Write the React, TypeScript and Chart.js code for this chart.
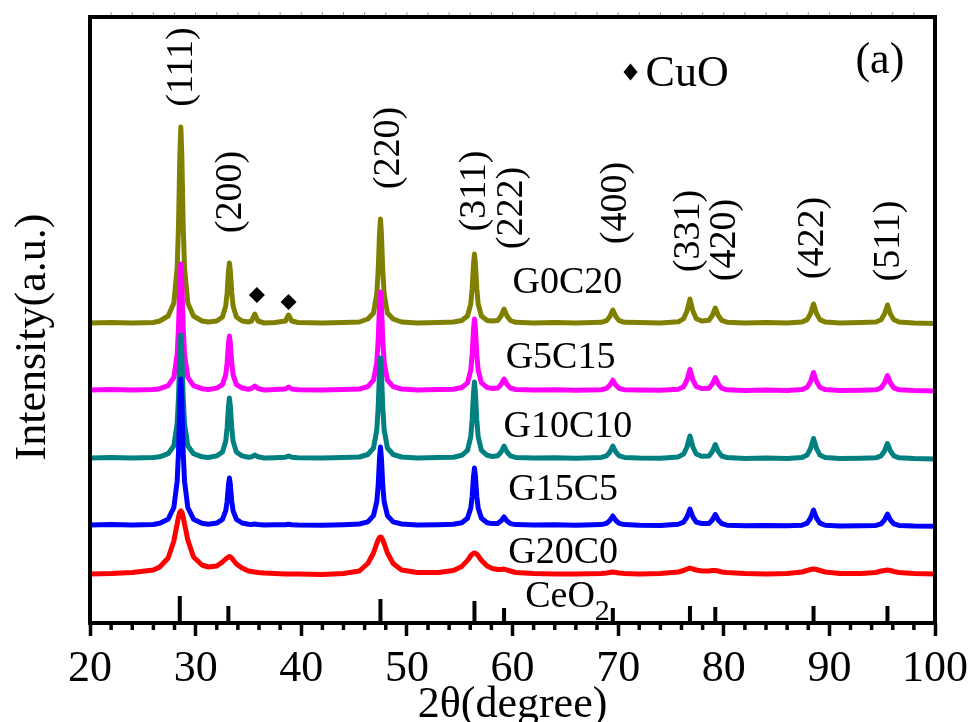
import { useEffect, useRef } from "react";
import { Chart, registerables } from "chart.js";

Chart.register(...registerables);

const FONT = '"Liberation Serif", "Times New Roman", serif';

// 2θ sampling positions (degrees), shared by all five patterns
const twoTheta = [
  20, 22, 24, 26,
  26.6, 27.4, 27.94, 28.25, 28.38, 28.51, 28.6, 28.69, 28.82, 28.95, 29.26, 29.8, 30.6,
  31.2,
  32.0, 32.54, 32.85, 32.98, 33.11, 33.2, 33.29, 33.42, 33.55, 33.86, 34.4,
  35.0,
  35.3, 35.6, 35.9, 36.5,
  37.5,
  38.5, 38.8, 39.1, 39.7,
  42, 44, 45.5,
  46.3, 46.84, 47.15, 47.28, 47.41, 47.5, 47.59, 47.72, 47.85, 48.16, 48.7,
  49.5, 51, 53,
  54.4, 55.2, 55.74, 56.05, 56.18, 56.31, 56.4, 56.49, 56.62, 56.75, 57.06, 57.6,
  58.1,
  58.6, 58.92, 59.2, 59.48, 59.8, 60.3,
  62, 64, 66,
  68.4, 68.9, 69.22, 69.5, 69.78, 70.1, 70.6,
  72, 74,
  75.7, 76.2, 76.52, 76.8, 77.08, 77.4, 77.9,
  78.6, 78.92, 79.2, 79.48, 79.8, 80.3,
  82, 84, 86,
  87.4, 87.9, 88.22, 88.5, 88.78, 89.1, 89.6,
  91, 93,
  94.4, 94.9, 95.22, 95.5, 95.78, 96.1, 96.6,
  98, 100,
];

// Intensities (a.u., stacked with vertical offsets)
const g0c20 = [
  300, 300.5, 300, 300.5,
  302, 307, 320, 355, 398, 469, 496, 469, 398, 355, 320, 307, 302,
  301,
  302, 306, 317, 330, 352, 360, 352, 330, 317, 306, 302,
  301,
  302, 309, 302, 300,
  300.5,
  302, 308, 302, 300.5,
  300, 300.5, 301,
  304, 310, 329, 352, 389, 404, 389, 352, 329, 310, 304,
  301, 300, 300.5,
  301, 302.5, 307, 319, 334.5, 359, 369, 359, 334.5, 319, 307, 302.5,
  302,
  302.5, 307, 314, 307, 302.5, 300.7,
  300, 300.5, 300,
  300.7, 302.3, 306.5, 313, 306.5, 302.3, 300.7,
  300.5, 300,
  301.2, 304.3, 312, 324, 312, 304.3, 302,
  302.7, 307.5, 315, 307.5, 302.7, 300.8,
  300, 300.5, 300,
  301, 303.4, 309.5, 319, 309.5, 303.4, 301,
  300, 300.5,
  301, 303.2, 309, 318, 309, 303.2, 301,
  300, 299.5,
];

const g5c15 = [
  233, 233.5, 233, 233.5,
  234.3, 237.4, 245.6, 268.3, 296, 341.4, 359, 341.4, 296, 268.3, 245.6, 237.4, 234.3,
  233.5,
  234.9, 238.4, 248.1, 260, 279.4, 287, 279.4, 260, 248.1, 238.4, 235,
  233.8,
  234.5, 237, 234.5, 233,
  233.5,
  234, 236, 234, 233.2,
  233, 233.5, 234,
  236.4, 242.8, 260.4, 282, 317.3, 331, 317.3, 282, 260.4, 242.8, 236.4,
  234, 233, 233.5,
  233.7, 235.5, 240.1, 252.9, 268.5, 294, 304, 294, 268.5, 252.9, 240.1, 235.5,
  234.5,
  235, 238.5, 244, 238.5, 235, 233.5,
  233, 233.3, 232.8,
  233.3, 234.6, 237.8, 242.8, 237.8, 234.6, 233.3,
  233, 232.7,
  233.8, 236.3, 243, 253.5, 243, 236.3, 234.5,
  234.8, 239, 245.5, 239, 234.8, 233.2,
  232.5, 233, 232.5,
  233.4, 235.7, 241.5, 250.5, 241.5, 235.7, 233.4,
  232.5, 232.8,
  233.2, 235.2, 240, 247.5, 240, 235.2, 233.2,
  232.5, 232,
];

const g10c10 = [
  165, 165.5, 165, 165.5,
  166.2, 169.3, 177.3, 199.4, 226.5, 270.8, 288, 270.8, 226.5, 199.4, 177.3, 169.3, 166.2,
  165.5,
  167.1, 171, 181.8, 195, 216.6, 225, 216.6, 195, 181.8, 171, 167.1,
  165.8,
  166.2, 168, 166.2, 165,
  165.3,
  165.8, 167, 165.8, 165.2,
  165, 165.4, 166,
  168.5, 175, 193, 215, 251, 265, 251, 215, 193, 175, 168.5,
  166, 165, 165.4,
  165.8, 167.7, 172.6, 186.3, 203, 230.4, 241, 230.4, 203, 186.3, 172.6, 167.7,
  166.5,
  167.2, 171, 177, 171, 167.2, 165.6,
  165, 165.3, 164.8,
  165.6, 167.2, 171, 177, 171, 167.2, 165.6,
  165, 164.8,
  166.1, 169, 176, 187, 176, 169, 166.8,
  167, 171.5, 178.5, 171.5, 167, 165.5,
  164.5, 165, 164.5,
  165.5, 168.1, 174.5, 184.5, 174.5, 168.1, 165.5,
  164.5, 164.8,
  165.2, 167.2, 172, 179.5, 172, 167.2, 165.2,
  164.5, 164,
];

const g15c5 = [
  98, 98.5, 98, 98.5,
  99.8, 103.8, 115.5, 141.8, 171, 223.6, 244, 223.6, 171, 141.8, 115.5, 103.8, 99.8,
  98.8,
  99.9, 103.6, 112.1, 121.5, 138.4, 145, 138.4, 121.5, 112.1, 103.6, 100,
  98.8,
  98.5, 99, 98.5, 98,
  98.3,
  98.3, 98.8, 98.3, 98,
  97.8, 98.3, 99,
  101.1, 107.4, 121.4, 137, 165, 176, 165, 137, 121.4, 107.4, 101.1,
  99, 98, 98.3,
  98.7, 100.3, 104.8, 115.1, 126.5, 147, 155, 147, 126.5, 115.1, 104.8, 100.3,
  99.4,
  99.6, 102, 106, 102, 99.4, 98.4,
  98, 98.2, 97.8,
  98.4, 99.6, 102.5, 107, 102.5, 99.6, 98.4,
  97.8, 97.5,
  98.8, 100.9, 106, 114, 106, 100.9, 99.5,
  99.5, 103, 108.5, 103, 99.5, 97.8,
  97.3, 97.5, 97.2,
  97.8, 99.9, 105, 113, 105, 99.9, 97.8,
  97, 97.2,
  97.6, 99.2, 103, 109, 103, 99.2, 97.6,
  97, 96.8,
];

const g20c0 = [
  49, 49.5, 50.5, 53,
  56, 65, 82, 99, 106, 111, 112, 111, 106, 99, 83, 66, 58,
  56,
  57, 61, 64, 65, 66, 66.5, 66, 65, 63, 59, 55,
  52,
  51.5, 51, 50.5, 50,
  49.5,
  49, 49, 49, 49,
  48.5, 49.5, 52,
  59.5, 70, 79.5, 83, 85.5, 86, 85.5, 83, 79.5, 70, 59.5,
  53, 50.5, 50.5,
  52.5, 56.6, 62.6, 67.3, 68.8, 69.8, 70, 69.8, 68.8, 67.3, 62.6, 57,
  54.5,
  53.5, 53.5, 54, 53, 52, 50.5,
  49.5, 49, 49,
  49.5, 50, 50.5, 51, 50.5, 50, 49.5,
  49, 49.5,
  51, 52.5, 54, 55, 54, 53, 52,
  52, 52.5, 52.5, 52, 51, 50.5,
  49.5, 49, 49.5,
  51, 52.5, 53.5, 54, 53.5, 52.5, 51,
  49.5, 49.5,
  50.5, 52, 52.5, 53, 52.5, 51.5, 50.5,
  49.5, 49,
];

const sampleNames = ["G0C20", "G5C15", "G10C10", "G15C5", "G20C0"];
const sampleColors = ["#808000", "#ff00ff", "#008080", "#0000ff", "#ff0000"];
const sampleSeries = [g0c20, g5c15, g10c10, g15c5, g20c0];
const sampleLabelX = [60.0, 59.35, 59.15, 59.6, 59.6];
const sampleLabelY = [330, 255, 186, 123, 60];

// CeO2 reference pattern (stick positions and relative heights)
const ceo2Peaks = [28.5, 33.1, 47.5, 56.4, 59.2, 69.5, 76.8, 79.2, 88.5, 95.5];
const ceo2Heights = [27, 17, 24, 22, 15, 15, 17, 16, 17, 17];

// CuO reflections marked on G0C20
const cuoX = [35.8, 38.8];
const cuoY = [328, 321];

// Miller indices of the fluorite CeO2 reflections
const hklLabels = ["(111)", "(200)", "(220)", "(311)", "(222)", "(400)", "(331)", "(420)", "(422)", "(511)"];
const hklX = [28.76, 33.49, 48.36, 56.5, 60.0, 69.94, 76.85, 80.26, 88.5, 95.7];
const hklY = [556, 431, 475, 432, 415, 420, 392, 383, 385, 382];

const xMin = 20;
const xMax = 100;
const xMajorStep = 10;
const xMinorStep = 2;
const yMax = 606;

const annotations = {
  id: "xrdAnnotations",
  afterDraw(chart: any) {
    const { ctx, chartArea: a, scales } = chart;
    const xs = scales.x;
    const ys = scales.y;
    ctx.save();

    // frame
    ctx.strokeStyle = "#000";
    ctx.lineWidth = 4;
    ctx.strokeRect(a.left, a.top, a.right - a.left, a.bottom - a.top);

    // minor ticks on the 2θ axis
    ctx.lineWidth = 3.5;
    for (let v = xMin + xMinorStep; v < xMax; v += xMinorStep) {
      if (v % xMajorStep === 0) continue;
      const px = xs.getPixelForValue(v);
      ctx.beginPath();
      ctx.moveTo(px, a.bottom);
      ctx.lineTo(px, a.bottom + 7);
      ctx.stroke();
    }
    // faint ticks on the top edge
    ctx.strokeStyle = "#9a9a9a";
    ctx.lineWidth = 1;
    for (let v = xMin + xMinorStep; v < xMax; v += xMinorStep) {
      const px = xs.getPixelForValue(v);
      ctx.beginPath();
      ctx.moveTo(px, a.top - 2);
      ctx.lineTo(px, a.top - 5);
      ctx.stroke();
    }

    ctx.fillStyle = "#000";

    // Miller index labels, rotated
    ctx.font = `38px ${FONT}`;
    ctx.textAlign = "center";
    ctx.textBaseline = "alphabetic";
    hklLabels.forEach((t, i) => {
      const px = xs.getPixelForValue(hklX[i]);
      const py = ys.getPixelForValue(hklY[i]);
      ctx.save();
      ctx.translate(px + 9, py);
      ctx.rotate(-Math.PI / 2);
      ctx.fillText(t, 0, 0);
      ctx.restore();
    });

    // sample names
    ctx.textAlign = "left";
    ctx.font = `38px ${FONT}`;
    sampleNames.forEach((t, i) => {
      ctx.fillText(t, xs.getPixelForValue(sampleLabelX[i]), ys.getPixelForValue(sampleLabelY[i]));
    });

    // CeO2 with subscript
    const cx = xs.getPixelForValue(61.2);
    ctx.font = `38px ${FONT}`;
    ctx.fillText("CeO", cx, ys.getPixelForValue(16));
    const w = ctx.measureText("CeO").width;
    ctx.font = `30px ${FONT}`;
    ctx.fillText("2", cx + w, ys.getPixelForValue(3));

    // CuO key
    const dx = xs.getPixelForValue(71.17);
    const dy = ys.getPixelForValue(551);
    ctx.beginPath();
    ctx.moveTo(dx, dy - 8.5);
    ctx.lineTo(dx + 7, dy);
    ctx.lineTo(dx, dy + 8.5);
    ctx.lineTo(dx - 7, dy);
    ctx.closePath();
    ctx.fill();
    ctx.font = `44px ${FONT}`;
    ctx.fillText("CuO", xs.getPixelForValue(72.6), ys.getPixelForValue(537));

    // panel tag
    ctx.fillText("(a)", xs.getPixelForValue(92.47), ys.getPixelForValue(550));

    // axis titles
    ctx.font = `44px ${FONT}`;
    ctx.textAlign = "center";
    ctx.fillText("2θ(degree)", (a.left + a.right) / 2, a.bottom + 94);
    ctx.save();
    ctx.translate(a.left - 45, 337);
    ctx.rotate(-Math.PI / 2);
    ctx.fillText("Intensity(a.u.)", 0, 0);
    ctx.restore();

    ctx.restore();
  },
};

export default function App() {
  const canvasRef = useRef<HTMLCanvasElement | null>(null);

  useEffect(() => {
    const canvas = canvasRef.current;
    if (!canvas) return;

    const patternSets = sampleSeries.map((series, i) => ({
      type: "line" as const,
      label: sampleNames[i],
      data: twoTheta.map((x, j) => ({ x, y: series[j] })),
      borderColor: sampleColors[i],
      borderWidth: 5,
      borderJoinStyle: "round" as const,
      pointRadius: 0,
      tension: 0,
      fill: false,
      order: 4 - i,
    }));

    const ceo2Data: { x: number; y: number | null }[] = [];
    ceo2Peaks.forEach((p, i) => {
      ceo2Data.push({ x: p, y: 0 }, { x: p, y: ceo2Heights[i] }, { x: p, y: null });
    });

    const chart = new Chart(canvas, {
      type: "line",
      data: {
        datasets: [
          ...patternSets,
          {
            type: "line",
            label: "CeO2",
            data: ceo2Data,
            borderColor: "#000",
            borderWidth: 4,
            borderCapStyle: "butt",
            pointRadius: 0,
            spanGaps: false,
            order: 5,
          },
          {
            type: "line",
            label: "CuO",
            data: cuoX.map((x, i) => ({ x, y: cuoY[i] })),
            showLine: false,
            pointStyle: "rectRot",
            pointRadius: 8,
            pointBackgroundColor: "#000",
            pointBorderWidth: 0,
            order: -1,
          },
        ] as any,
      },
      options: {
        animation: false,
        responsive: false,
        events: [],
        layout: { padding: { left: 90, right: 37, top: 17, bottom: 0 } },
        plugins: { legend: { display: false }, tooltip: { enabled: false } },
        scales: {
          x: {
            type: "linear",
            position: "bottom",
            min: xMin,
            max: xMax,
            ticks: {
              stepSize: xMajorStep,
              autoSkip: false,
              maxRotation: 0,
              padding: 7,
              color: "#000",
              font: { family: FONT, size: 44 },
            },
            grid: {
              display: true,
              drawOnChartArea: false,
              drawTicks: true,
              tickLength: 13,
              tickWidth: 3.5,
              tickColor: "#000",
            },
            border: { display: false },
            afterFit(scale: any) {
              scale.height = 99;
              scale.paddingLeft = 0;
              scale.paddingRight = 0;
            },
          },
          y: {
            type: "linear",
            min: 0,
            max: yMax,
            display: false,
          },
        },
      },
      plugins: [annotations],
    });

    return () => chart.destroy();
  }, []);

  return (
    <div style={{ position: "fixed", left: 0, top: 0, width: 972, height: 722, background: "#fff" }}>
      <canvas ref={canvasRef} width={972} height={722} style={{ display: "block" }} />
    </div>
  );
}
